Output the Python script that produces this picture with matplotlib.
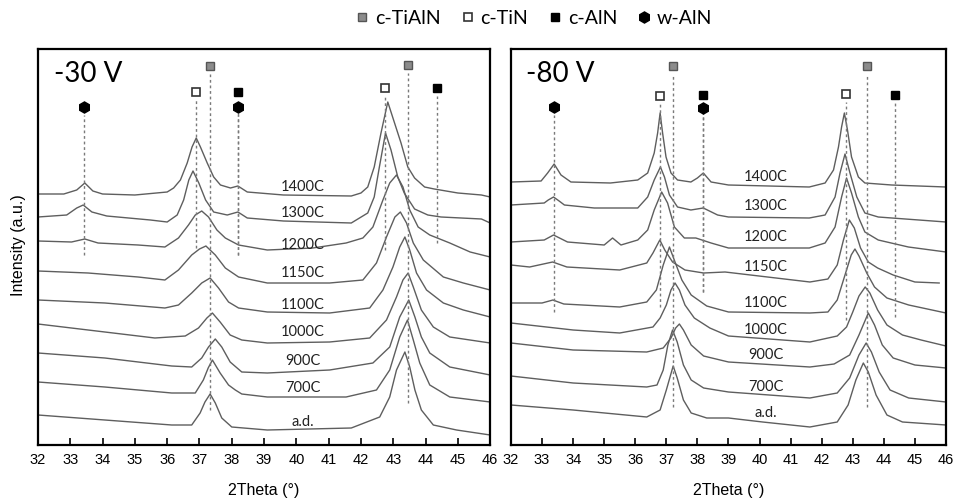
import matplotlib
matplotlib.use("Agg")
import matplotlib.pyplot as plt
from matplotlib.lines import Line2D

plt.rcParams["font.family"] = ["Lato", "DejaVu Sans"]

# annealing temperature of each trace, top to bottom
temps = ["1400C", "1300C", "1200C", "1150C", "1100C", "1000C", "900C", "700C", "a.d."]

# -30 V bias: (2theta, intensity) points
curves_30 = [
    [(32.0, 251), (32.8, 251), (33.2, 255), (33.45, 262), (33.7, 254), (34.0, 251), (35.0, 250),
     (36.0, 253), (36.2, 257), (36.41, 265), (36.62, 282), (36.77, 298), (36.9, 307), (37.03, 298),
     (37.24, 282), (37.44, 268), (37.65, 260), (37.96, 257), (38.19, 259), (38.48, 253), (39.6, 250),
     (41.7, 249), (42.0, 252), (42.21, 258), (42.41, 278), (42.62, 312), (42.83, 343), (43.03, 323),
     (43.24, 302), (43.45, 278), (43.66, 267), (43.97, 258), (44.27, 256), (45.0, 252), (45.73, 250),
     (46.0, 248)],
    [(32.0, 228), (32.89, 230), (33.2, 237), (33.4, 240), (33.67, 233), (34.13, 229), (35.48, 225),
     (36.0, 223), (36.31, 230), (36.51, 245), (36.67, 265), (36.8, 274), (36.98, 262), (37.19, 245),
     (37.44, 233), (37.86, 230), (38.19, 233), (38.48, 227), (39.6, 224), (41.7, 222), (42.21, 232),
     (42.41, 248), (42.57, 278), (42.76, 312), (42.93, 295), (43.14, 268), (43.34, 252), (43.66, 236),
     (44.07, 230), (44.48, 228), (45.73, 226), (46.0, 222)],
    [(32.0, 204), (33.04, 203), (33.45, 206), (33.86, 202), (35.1, 200), (35.93, 198), (36.35, 207),
     (36.66, 220), (36.87, 230), (37.07, 234), (37.28, 228), (37.54, 215), (37.8, 207), (38.21, 200),
     (39.1, 195), (40.51, 197), (41.54, 202), (42.06, 207), (42.37, 218), (42.68, 245), (42.89, 262),
     (43.1, 270), (43.3, 258), (43.51, 235), (43.77, 218), (44.13, 210), (44.75, 202), (45.38, 193),
     (46.0, 188)],
    [(32.0, 174), (33.55, 172), (35.1, 168), (35.93, 165), (36.35, 175), (36.76, 190), (37.0, 196),
     (37.2, 199), (37.49, 190), (37.8, 177), (38.21, 168), (39.1, 162), (41.03, 162), (42.06, 165),
     (42.48, 182), (42.79, 208), (43.05, 228), (43.22, 233), (43.41, 222), (43.62, 202), (43.93, 185),
     (44.55, 168), (45.17, 162), (46.0, 155)],
    [(32.0, 145), (34.07, 142), (35.93, 137), (36.35, 140), (36.76, 152), (37.07, 162), (37.33, 167),
     (37.59, 157), (37.9, 143), (38.21, 137), (39.1, 133), (41.03, 132), (42.27, 137), (42.68, 155),
     (42.99, 178), (43.2, 198), (43.36, 208), (43.51, 195), (43.72, 172), (44.03, 155), (44.55, 142),
     (45.17, 135), (46.0, 128)],
    [(32.0, 121), (34.07, 113), (35.62, 107), (36.56, 109), (36.97, 117), (37.23, 127), (37.4, 132),
     (37.64, 123), (37.95, 110), (38.31, 105), (39.1, 102), (41.03, 103), (42.27, 107), (42.79, 125),
     (43.1, 148), (43.3, 165), (43.46, 172), (43.62, 158), (43.87, 135), (44.24, 118), (44.75, 108),
     (46.0, 102)],
    [(32.0, 92), (34.07, 87), (36.14, 79), (36.76, 78), (37.07, 87), (37.28, 98), (37.49, 106),
     (37.69, 98), (37.95, 83), (38.31, 73), (39.1, 72), (41.03, 75), (42.37, 82), (42.89, 98),
     (43.2, 128), (43.48, 145), (43.67, 128), (43.87, 108), (44.13, 92), (44.75, 78), (46.0, 70)],
    [(32.0, 63), (34.07, 58), (36.14, 52), (36.87, 52), (37.12, 65), (37.27, 77), (37.4, 85),
     (37.64, 72), (37.9, 60), (38.11, 55), (38.31, 51), (39.1, 48), (41.54, 48), (42.48, 55),
     (42.89, 75), (43.2, 108), (43.44, 125), (43.62, 105), (43.82, 82), (44.13, 60), (44.75, 48),
     (46.0, 43)],
    [(32.0, 30), (34.07, 25), (36.14, 20), (36.76, 20), (37.02, 32), (37.17, 43), (37.33, 51),
     (37.49, 42), (37.69, 27), (38.0, 18), (39.1, 15), (41.7, 17), (42.58, 28), (42.89, 48),
     (43.1, 75), (43.36, 93), (43.51, 78), (43.67, 55), (43.87, 35), (44.24, 20), (44.96, 15),
     (46.0, 10)],
]
label_h_30 = [258, 232, 200, 172, 140, 113, 84, 57, 23]

# -80 V bias
curves_80 = [
    [(32.0, 263), (32.97, 264), (33.18, 272), (33.39, 281), (33.61, 270), (33.93, 263), (35.2, 262),
     (36.08, 265), (36.4, 272), (36.61, 292), (36.72, 312), (36.8, 332), (36.88, 312), (36.99, 288),
     (37.15, 272), (37.36, 265), (37.79, 263), (38.0, 267), (38.19, 272), (38.44, 263), (39.0, 260),
     (41.6, 258), (42.11, 262), (42.38, 275), (42.54, 298), (42.64, 318), (42.73, 332), (42.83, 315),
     (42.96, 288), (43.18, 268), (43.39, 262), (44.25, 260), (46.0, 258)],
    [(32.0, 240), (33.07, 242), (33.2, 245), (33.37, 248), (33.55, 244), (33.72, 240), (34.68, 237),
     (36.08, 237), (36.4, 248), (36.61, 265), (36.81, 278), (36.94, 268), (37.1, 250), (37.36, 238),
     (37.79, 235), (38.19, 237), (38.65, 230), (39.0, 228), (41.6, 227), (42.11, 230), (42.43, 248),
     (42.59, 272), (42.75, 291), (42.91, 272), (43.13, 248), (43.39, 232), (43.82, 228), (46.0, 223)],
    [(32.0, 203), (33.07, 205), (33.37, 210), (33.82, 203), (35.0, 200), (35.27, 207), (35.54, 200),
     (36.08, 205), (36.4, 215), (36.61, 235), (36.85, 253), (37.04, 242), (37.26, 218), (37.58, 207),
     (37.95, 207), (38.44, 202), (39.0, 197), (41.6, 197), (42.11, 202), (42.43, 218), (42.64, 248),
     (42.8, 267), (42.96, 252), (43.18, 228), (43.39, 213), (43.82, 205), (44.79, 198), (46.0, 193)],
    [(32.0, 180), (32.6, 178), (33.34, 183), (33.8, 178), (35.5, 175), (36.37, 182), (36.57, 192),
     (36.79, 205), (36.95, 195), (37.2, 183), (37.6, 175), (38.2, 172), (38.89, 173), (41.62, 163),
     (42.2, 166), (42.5, 180), (42.7, 205), (42.89, 225), (43.05, 217), (43.25, 197), (43.5, 183),
     (43.8, 177), (44.3, 170), (45.0, 163), (45.78, 162)],
    [(32.0, 142), (33.0, 142), (33.35, 145), (33.7, 141), (35.5, 138), (36.37, 143), (36.68, 155),
     (36.9, 180), (37.1, 198), (37.28, 183), (37.5, 165), (37.8, 150), (38.3, 139), (39.0, 133),
     (41.62, 132), (42.2, 133), (42.5, 145), (42.75, 170), (42.95, 190), (43.07, 196), (43.2, 189),
     (43.45, 172), (43.7, 158), (44.1, 147), (44.8, 140), (46.0, 132)],
    [(32.0, 122), (34.0, 115), (35.5, 112), (36.57, 118), (36.8, 127), (37.0, 140), (37.15, 155),
     (37.28, 162), (37.42, 155), (37.6, 140), (37.9, 127), (38.4, 117), (39.0, 109), (41.62, 103),
     (42.5, 109), (42.8, 118), (43.0, 133), (43.2, 149), (43.4, 158), (43.55, 152), (43.8, 135),
     (44.1, 120), (44.6, 110), (45.2, 105), (46.0, 99)],
    [(32.0, 102), (34.0, 95), (36.37, 93), (36.9, 97), (37.15, 107), (37.3, 117), (37.42, 121),
     (37.55, 115), (37.8, 100), (38.2, 89), (39.0, 83), (41.62, 78), (42.4, 81), (42.9, 90),
     (43.2, 110), (43.5, 132), (43.7, 120), (43.95, 100), (44.3, 87), (45.0, 80), (46.0, 77)],
    [(32.0, 69), (34.0, 62), (36.37, 58), (36.7, 60), (36.9, 75), (37.05, 100), (37.2, 115),
     (37.35, 103), (37.55, 80), (37.8, 65), (38.2, 57), (39.0, 53), (41.62, 47), (42.5, 52),
     (42.9, 67), (43.2, 90), (43.43, 102), (43.6, 93), (43.85, 73), (44.2, 55), (44.8, 47),
     (46.0, 43)],
    [(32.0, 40), (34.0, 35), (36.37, 28), (36.8, 35), (37.0, 55), (37.22, 79), (37.35, 67),
     (37.55, 45), (37.8, 32), (38.3, 27), (39.0, 27), (40.1, 23), (41.62, 18), (42.5, 23),
     (42.85, 40), (43.1, 65), (43.34, 82), (43.5, 73), (43.75, 50), (44.1, 30), (44.6, 23),
     (46.0, 20)],
]
label_h_80 = [268, 239, 208, 178, 142, 115, 90, 58, 32]

# reference peaks: phase, 2theta, marker height, bottom of the dashed guide
refs_30 = [("w-AlN", 33.44, 338, 190), ("c-TiN", 36.88, 353, 197), ("c-TiAlN", 37.34, 379, 35),
           ("c-AlN", 38.2, 353, 190), ("w-AlN", 38.2, 338, 190), ("c-TiN", 42.75, 357, 195),
           ("c-TiAlN", 43.45, 380, 42), ("c-AlN", 44.35, 357, 202)]
refs_80 = [("w-AlN", 33.38, 338, 133), ("c-TiN", 36.8, 349, 138), ("c-TiAlN", 37.22, 379, 38),
           ("c-AlN", 38.19, 350, 153), ("w-AlN", 38.19, 337, 153), ("c-TiN", 42.77, 351, 125),
           ("c-TiAlN", 43.45, 379, 38), ("c-AlN", 44.36, 350, 128)]

phase_style = {
    "c-TiAlN": dict(marker="s", ms=6, mfc="#8c8c8c", mec="#555555", mew=1.0),
    "c-TiN": dict(marker="s", ms=6, mfc="white", mec="#333333", mew=1.2),
    "c-AlN": dict(marker="s", ms=6, mfc="black", mec="black", mew=1.0),
    "w-AlN": dict(marker="h", ms=8, mfc="black", mec="black", mew=1.0),
}


def draw_panel(ax, curves, label_h, refs, title):
    for pts, lab, lh in zip(curves, temps, label_h):
        ax.plot([p[0] for p in pts], [p[1] for p in pts], color="#5e5e5e", lw=1.0)
        ax.text(40.2, lh, lab, ha="center", va="center", fontsize=10.5, color="#222222")
    for phase, pos, mh, bottom in refs:
        ax.plot([pos, pos], [bottom, mh - 8], ls=(0, (2, 2)), color="#7a7a7a", lw=1.0)
        ax.plot(pos, mh, ls="none", **phase_style[phase])
    ax.text(32.5, 371, title, fontsize=20, va="center", ha="left")
    ax.set_xlim(32, 46)
    ax.set_ylim(0, 396)
    ax.set_xticks(range(32, 47))
    ax.set_yticks([])
    ax.tick_params(axis="x", direction="in", length=5, width=1.2, labelsize=10.5, pad=6)
    for lab in ax.get_xticklabels():
        lab.set_family("Liberation Sans")
    for sp in ax.spines.values():
        sp.set_linewidth(1.6)
    ax.set_xlabel("2Theta (°)", family="Liberation Sans", fontsize=11.5, labelpad=11)


fig = plt.figure(figsize=(9.54, 5.0), dpi=100)
ax1 = fig.add_axes([0.0398, 0.11, 0.474, 0.792])
ax2 = fig.add_axes([0.5356, 0.11, 0.456, 0.792])
draw_panel(ax1, curves_30, label_h_30, refs_30, "-30 V")
draw_panel(ax2, curves_80, label_h_80, refs_80, "-80 V")

fig.text(0.019, 0.51, "Intensity (a.u.)", rotation=90, ha="center", va="center",
         family="Liberation Sans", fontsize=11.5)

handles = [Line2D([], [], ls="none", **phase_style[p]) for p in ["c-TiAlN", "c-TiN", "c-AlN", "w-AlN"]]
fig.legend(handles, ["c-TiAlN", "c-TiN", "c-AlN", "w-AlN"], loc="center", ncol=4,
           bbox_to_anchor=(0.558, 0.964), frameon=False, fontsize=14, handletextpad=0.15,
           columnspacing=0.9, handlelength=1.0)

fig.savefig("out.png", dpi=100)
